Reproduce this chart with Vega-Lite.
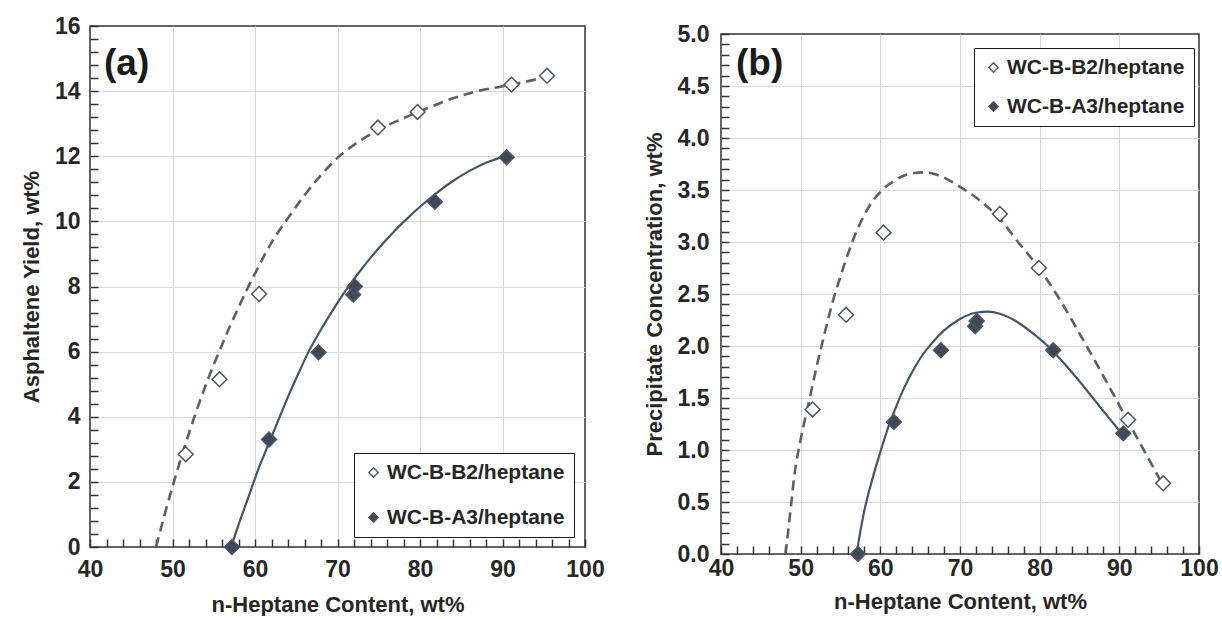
{
  "$schema": "https://vega.github.io/schema/vega-lite/v6.json",
  "background": "white",
  "padding": {"left": 19, "top": 14, "right": 4, "bottom": 0},
  "bounds": "flush",
  "spacing": 136,
  "config": {
    "view": {"stroke": "#333333", "strokeWidth": 1.5},
    "font": "Liberation Sans",
    "axis": {
      "labelFont": "Liberation Sans", "labelFontWeight": "bold", "labelFontSize": 23, "labelColor": "#262626",
      "titleFont": "Liberation Sans", "titleFontWeight": "bold", "titleFontSize": 22, "titleColor": "#262626",
      "domain": false, "tickColor": "#333333", "tickWidth": 1.5,
      "gridColor": "#d9d9d9", "gridWidth": 1, "labelOverlap": false, "labelFlush": false
    },
    "legend": {
      "title": null, "symbolType": "diamond", "symbolSize": 90, "symbolStrokeColor": "#4d5563", "symbolStrokeWidth": 1.3,
      "labelFont": "Liberation Sans", "labelFontWeight": "bold", "labelFontSize": 21, "labelColor": "#262626",
      "strokeColor": "#1a1a1a", "fillColor": "white", "padding": 9, "labelOffset": 3, "labelLimit": 400
    }
  },
  "datasets": {
    "a_pts": [
      {"x": 51.6, "y": 2.85, "series": "WC-B-B2/heptane"},
      {"x": 55.7, "y": 5.15, "series": "WC-B-B2/heptane"},
      {"x": 60.5, "y": 7.77, "series": "WC-B-B2/heptane"},
      {"x": 74.9, "y": 12.88, "series": "WC-B-B2/heptane"},
      {"x": 79.7, "y": 13.36, "series": "WC-B-B2/heptane"},
      {"x": 91.1, "y": 14.2, "series": "WC-B-B2/heptane"},
      {"x": 95.4, "y": 14.47, "series": "WC-B-B2/heptane"},
      {"x": 57.2, "y": 0.0, "series": "WC-B-A3/heptane"},
      {"x": 61.7, "y": 3.3, "series": "WC-B-A3/heptane"},
      {"x": 67.7, "y": 5.98, "series": "WC-B-A3/heptane"},
      {"x": 71.9, "y": 7.75, "series": "WC-B-A3/heptane"},
      {"x": 72.1, "y": 8.0, "series": "WC-B-A3/heptane"},
      {"x": 81.8, "y": 10.6, "series": "WC-B-A3/heptane"},
      {"x": 90.5, "y": 11.97, "series": "WC-B-A3/heptane"}
    ],
    "a_b2_fit": [
      {"x": 48, "y": 0}, {"x": 49, "y": 0.95}, {"x": 50, "y": 1.85}, {"x": 51, "y": 2.7}, {"x": 52, "y": 3.5},
      {"x": 53, "y": 4.25}, {"x": 54, "y": 4.95}, {"x": 55, "y": 5.6}, {"x": 56, "y": 6.2}, {"x": 57, "y": 6.8},
      {"x": 58, "y": 7.35}, {"x": 59, "y": 7.9}, {"x": 60, "y": 8.4}, {"x": 62, "y": 9.35}, {"x": 64, "y": 10.1},
      {"x": 66, "y": 10.8}, {"x": 68, "y": 11.42}, {"x": 70, "y": 11.95}, {"x": 72, "y": 12.35}, {"x": 75, "y": 12.82},
      {"x": 78, "y": 13.17}, {"x": 80, "y": 13.38}, {"x": 84, "y": 13.78}, {"x": 87, "y": 14.0}, {"x": 90, "y": 14.15},
      {"x": 93, "y": 14.3}, {"x": 95.5, "y": 14.45}
    ],
    "a_a3_fit": [
      {"x": 57.1, "y": 0}, {"x": 58, "y": 0.68}, {"x": 59.3, "y": 1.6}, {"x": 60.5, "y": 2.45}, {"x": 61.7, "y": 3.2},
      {"x": 63, "y": 4.0}, {"x": 64.1, "y": 4.67}, {"x": 65.3, "y": 5.35}, {"x": 66.5, "y": 6.0}, {"x": 68, "y": 6.68},
      {"x": 69.5, "y": 7.3}, {"x": 71, "y": 7.88}, {"x": 72.5, "y": 8.4}, {"x": 74, "y": 8.88}, {"x": 75.5, "y": 9.32},
      {"x": 77, "y": 9.73}, {"x": 78.5, "y": 10.1}, {"x": 80, "y": 10.45}, {"x": 82, "y": 10.87}, {"x": 84, "y": 11.24},
      {"x": 86, "y": 11.55}, {"x": 88, "y": 11.8}, {"x": 90.5, "y": 12.02}
    ],
    "b_pts": [
      {"x": 51.5, "y": 1.39, "series": "WC-B-B2/heptane"},
      {"x": 55.7, "y": 2.3, "series": "WC-B-B2/heptane"},
      {"x": 60.4, "y": 3.09, "series": "WC-B-B2/heptane"},
      {"x": 75.0, "y": 3.27, "series": "WC-B-B2/heptane"},
      {"x": 79.9, "y": 2.75, "series": "WC-B-B2/heptane"},
      {"x": 91.1, "y": 1.29, "series": "WC-B-B2/heptane"},
      {"x": 95.5, "y": 0.68, "series": "WC-B-B2/heptane"},
      {"x": 57.2, "y": 0.0, "series": "WC-B-A3/heptane"},
      {"x": 61.7, "y": 1.27, "series": "WC-B-A3/heptane"},
      {"x": 67.6, "y": 1.96, "series": "WC-B-A3/heptane"},
      {"x": 71.9, "y": 2.19, "series": "WC-B-A3/heptane"},
      {"x": 72.1, "y": 2.24, "series": "WC-B-A3/heptane"},
      {"x": 81.7, "y": 1.96, "series": "WC-B-A3/heptane"},
      {"x": 90.5, "y": 1.16, "series": "WC-B-A3/heptane"}
    ],
    "b_b2_fit": [
      {"x": 48.1, "y": 0}, {"x": 48.7, "y": 0.4}, {"x": 49.2, "y": 0.75}, {"x": 50, "y": 1.1}, {"x": 51, "y": 1.45},
      {"x": 52, "y": 1.8}, {"x": 53, "y": 2.12}, {"x": 54, "y": 2.42}, {"x": 55, "y": 2.67}, {"x": 56, "y": 2.9},
      {"x": 57, "y": 3.1}, {"x": 58, "y": 3.26}, {"x": 59, "y": 3.39}, {"x": 60, "y": 3.48}, {"x": 61, "y": 3.55},
      {"x": 62, "y": 3.6}, {"x": 63, "y": 3.64}, {"x": 64, "y": 3.66}, {"x": 65.5, "y": 3.67}, {"x": 67, "y": 3.65},
      {"x": 68.5, "y": 3.6}, {"x": 70, "y": 3.53}, {"x": 72.5, "y": 3.4}, {"x": 75, "y": 3.22}, {"x": 77.5, "y": 2.98},
      {"x": 80, "y": 2.74}, {"x": 82.5, "y": 2.45}, {"x": 85, "y": 2.12}, {"x": 87.5, "y": 1.78}, {"x": 90, "y": 1.43},
      {"x": 92.5, "y": 1.08}, {"x": 95.5, "y": 0.66}
    ],
    "b_a3_fit": [
      {"x": 57.0, "y": 0}, {"x": 57.5, "y": 0.22}, {"x": 58, "y": 0.42}, {"x": 59, "y": 0.72}, {"x": 60, "y": 0.98},
      {"x": 61, "y": 1.22}, {"x": 62, "y": 1.42}, {"x": 63, "y": 1.6}, {"x": 64, "y": 1.75}, {"x": 65, "y": 1.88},
      {"x": 66.5, "y": 2.03}, {"x": 68, "y": 2.15}, {"x": 70, "y": 2.26}, {"x": 72, "y": 2.32}, {"x": 73.5, "y": 2.33},
      {"x": 75, "y": 2.31}, {"x": 77, "y": 2.24}, {"x": 79, "y": 2.13}, {"x": 81, "y": 2.0}, {"x": 83, "y": 1.84},
      {"x": 85, "y": 1.66}, {"x": 87, "y": 1.47}, {"x": 89, "y": 1.28}, {"x": 90.5, "y": 1.14}
    ]
  },
  "hconcat": [
    {
      "width": 495,
      "height": 521,
      "title": {"text": "(a)", "anchor": "start", "frame": "group", "baseline": "top", "fontSize": 37, "fontWeight": "bold", "font": "Liberation Sans", "color": "#1a1a1a", "offset": -68, "dx": 14},
      "encoding": {
        "x": {
          "field": "x", "type": "quantitative",
          "scale": {"domain": [40, 100], "nice": false, "zero": false},
          "axis": {
            "title": "n-Heptane Content, wt%",
            "values": [40,42,44,46,48,50,52,54,56,58,60,62,64,66,68,70,72,74,76,78,80,82,84,86,88,90,92,94,96,98,100],
            "labelExpr": "datum.value % 10 === 0 ? datum.label : ''",
            "gridOpacity": {"condition": {"test": "datum.value % 10 === 0 && datum.value > 40 && datum.value < 100", "value": 1}, "value": 0},
            "tickSize": -8,
            "labelPadding": 19, "titlePadding": 13
          }
        },
        "y": {
          "field": "y", "type": "quantitative",
          "scale": {"domain": [0, 16], "nice": false, "zero": false},
          "axis": {
            "title": "Asphaltene Yield, wt%",
            "values": [0,0.4,0.8,1.2,1.6,2,2.4,2.8,3.2,3.6,4,4.4,4.8,5.2,5.6,6,6.4,6.8,7.2,7.6,8,8.4,8.8,9.2,9.6,10,10.4,10.8,11.2,11.6,12,12.4,12.8,13.2,13.6,14,14.4,14.8,15.2,15.6,16],
            "labelExpr": "datum.value % 2 === 0 ? format(datum.value, 'd') : ''",
            "gridOpacity": {"condition": {"test": "datum.value % 2 === 0 && datum.value > 0 && datum.value < 16", "value": 1}, "value": 0},
            "tickSize": -8,
            "labelPadding": 18, "titlePadding": 11
          }
        }
      },
      "layer": [
        {"data": {"name": "a_b2_fit"}, "mark": {"type": "line", "interpolate": "monotone", "stroke": "#59606c", "strokeWidth": 2.6, "strokeDash": [10, 6]}},
        {"data": {"name": "a_a3_fit"}, "mark": {"type": "line", "interpolate": "monotone", "stroke": "#44546a", "strokeWidth": 2.2}},
        {
          "data": {"name": "a_pts"},
          "mark": {"type": "point", "shape": "diamond", "filled": true, "size": 220, "opacity": 1, "stroke": "#4d5563", "strokeWidth": 1.5},
          "encoding": {
            "fill": {
              "field": "series", "type": "nominal",
              "scale": {"domain": ["WC-B-B2/heptane", "WC-B-A3/heptane"], "range": ["white", "#3d4859"]},
              "legend": {"orient": "none", "legendX": 264, "legendY": 427, "rowPadding": 23}
            }
          }
        }
      ]
    },
    {
      "bounds": "flush",
      "spacing": 0,
      "vconcat": [
        {"width": 478, "height": 8, "view": {"stroke": null}, "data": {"values": []}, "mark": {"type": "text"}, "encoding": {}},
        {
          "width": 478,
          "height": 520,
          "title": {"text": "(b)", "anchor": "start", "frame": "group", "baseline": "top", "fontSize": 37, "fontWeight": "bold", "font": "Liberation Sans", "color": "#1a1a1a", "offset": -60, "dx": 15},
          "encoding": {
            "x": {
              "field": "x", "type": "quantitative",
              "scale": {"domain": [40, 100], "nice": false, "zero": false},
              "axis": {
                "title": "n-Heptane Content, wt%",
                "values": [40,42,44,46,48,50,52,54,56,58,60,62,64,66,68,70,72,74,76,78,80,82,84,86,88,90,92,94,96,98,100],
                "labelExpr": "datum.value % 10 === 0 ? datum.label : ''",
                "gridOpacity": {"condition": {"test": "datum.value % 10 === 0 && datum.value > 40 && datum.value < 100", "value": 1}, "value": 0},
                "tickSize": -8,
                "labelPadding": 11, "titlePadding": 11
              }
            },
            "y": {
              "field": "y", "type": "quantitative",
              "scale": {"domain": [0, 5], "nice": false, "zero": false},
              "axis": {
                "title": "Precipitate Concentration, wt%",
                "values": [0,0.1,0.2,0.3,0.4,0.5,0.6,0.7,0.8,0.9,1,1.1,1.2,1.3,1.4,1.5,1.6,1.7,1.8,1.9,2,2.1,2.2,2.3,2.4,2.5,2.6,2.7,2.8,2.9,3,3.1,3.2,3.3,3.4,3.5,3.6,3.7,3.8,3.9,4,4.1,4.2,4.3,4.4,4.5,4.6,4.7,4.8,4.9,5],
                "labelExpr": "abs(datum.value * 2 - round(datum.value * 2)) < 0.000001 ? format(datum.value, '.1f') : ''",
                "gridOpacity": {"condition": {"test": "abs(datum.value * 2 - round(datum.value * 2)) < 0.000001 && datum.value > 0.01 && datum.value < 4.99", "value": 1}, "value": 0},
                "tickSize": -8,
                "labelPadding": 20, "titlePadding": 11
              }
            }
          },
          "layer": [
            {"data": {"name": "b_b2_fit"}, "mark": {"type": "line", "interpolate": "monotone", "stroke": "#59606c", "strokeWidth": 2.6, "strokeDash": [10, 6]}},
            {"data": {"name": "b_a3_fit"}, "mark": {"type": "line", "interpolate": "monotone", "stroke": "#44546a", "strokeWidth": 2.2}},
            {
              "data": {"name": "b_pts"},
              "mark": {"type": "point", "shape": "diamond", "filled": true, "size": 220, "opacity": 1, "stroke": "#4d5563", "strokeWidth": 1.5},
              "encoding": {
                "fill": {
                  "field": "series", "type": "nominal",
                  "scale": {"domain": ["WC-B-B2/heptane", "WC-B-A3/heptane"], "range": ["white", "#3d4859"]},
                  "legend": {"orient": "none", "legendX": 253, "legendY": 22, "rowPadding": 17}
                }
              }
            }
          ]
        }
      ]
    }
  ],
  "resolve": {"scale": {"fill": "independent", "x": "independent", "y": "independent"}, "legend": {"fill": "independent"}}
}
